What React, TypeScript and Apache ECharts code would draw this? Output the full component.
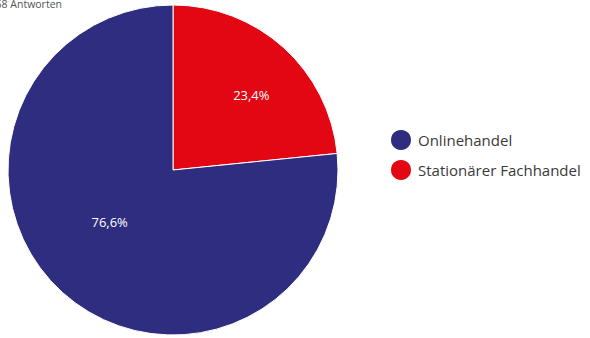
import React, { useEffect, useRef } from "react";
import * as echarts from "echarts";

const categories = ["Stationärer Fachhandel", "Onlinehandel"];
const values = [23.4, 76.6];
const colors = ["#e30613", "#2e2d7f"];
const legendOrder = ["Onlinehandel", "Stationärer Fachhandel"];
const noteText = "1.068 Antworten";
const labelOffsets = [[21, -12], [-6, -11]];

export default function App() {
  const ref = useRef<HTMLDivElement>(null);
  useEffect(() => {
    const chart = echarts.init(ref.current!, null, { renderer: "svg" });
    chart.setOption({
      animation: false,
      textStyle: { fontFamily: "Open Sans" },
      legend: {
        data: legendOrder,
        orient: "vertical",
        left: 384,
        top: 123,
        icon: "circle",
        itemWidth: 22,
        itemHeight: 22,
        itemGap: 6,
        textStyle: { fontSize: 15, color: "#3a3a3a", fontFamily: "Open Sans", padding: [0, 0, 0, 1] },
      },
      graphic: [
        {
          type: "text",
          x: 62,
          y: 9,
          style: {
            text: noteText,
            align: "right",
            verticalAlign: "bottom",
            fontSize: 10.5,
            fill: "#555",
            fontFamily: "Open Sans",
          },
        },
      ],
      series: [
        {
          type: "pie",
          center: [173, 170],
          radius: [0, 165],
          startAngle: 90,
          clockwise: true,
          itemStyle: { borderColor: "#fff", borderWidth: 1 },
          label: {
            show: true,
            position: "inside",
            formatter: (p: any) => p.value.toFixed(1).replace(".", ",") + "%",
            color: "#fff",
            fontSize: 13,
            fontFamily: "Open Sans",
          },
          emphasis: { disabled: true },
          data: categories.map((c, i) => ({
            name: c,
            value: values[i],
            itemStyle: { color: colors[i] },
            label: { offset: labelOffsets[i] },
          })),
        },
      ],
    });
    return () => chart.dispose();
  }, []);
  return (
    <div
      ref={ref}
      style={{ position: "fixed", left: 0, top: 0, width: 590, height: 338, background: "#fff" }}
    />
  );
}
